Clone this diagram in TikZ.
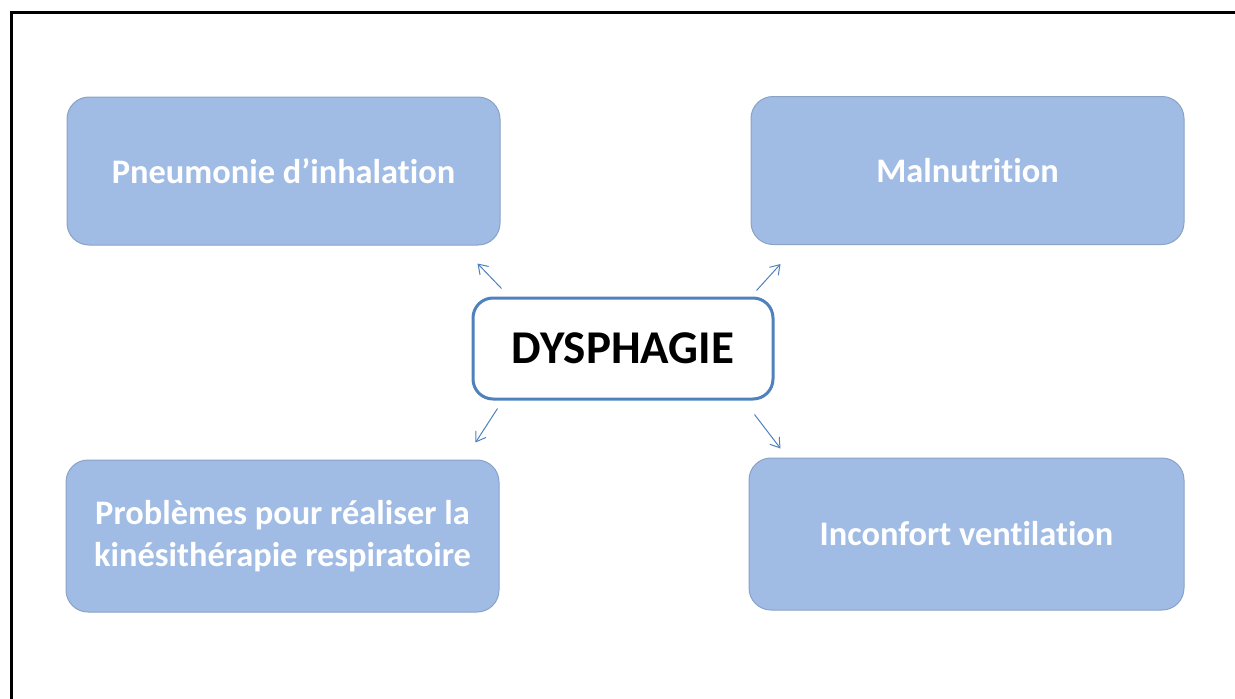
\documentclass[tikz,border=0pt]{standalone}
\usepackage{fontspec}
\setmainfont{Carlito}[Ligatures=NoCommon]
\usetikzlibrary{calc,arrows.meta}
\definecolor{boxblue}{HTML}{A0BCE5}
\definecolor{boxedge}{HTML}{8AA2C6}
\definecolor{dysblue}{HTML}{4F81BD}

\begin{document}
\begin{tikzpicture}[x=1pt, y=-1pt,
		effect/.style={rounded corners=22pt, fill=boxblue, draw=boxedge, line width=1pt,
			text=white, font=\fontsize{34.4}{42}\selectfont\bfseries, align=center,
			minimum width=433pt, minimum height=148pt, inner sep=0pt},
		cause/.style={rounded corners=20pt, fill=white, draw=dysblue, line width=3pt,
			font=\fontsize{47}{52}\selectfont\bfseries,
			minimum width=300pt, minimum height=101pt, inner sep=0pt},
		arr/.style={draw=dysblue, line width=1pt, -{Straight Barb[length=9pt, width=12pt]}}]
		%%%%% START %%%%%
		
		\useasboundingbox (0, 0) rectangle (1235, 699);
		\draw[line width=3pt] (11, 699) -- (11, 12) -- (1235, 12);
		
		\node[effect] (pneu) at (283.5, 171) {Pneumonie d’inhalation};
		\node[effect] (malnut) at (967.5, 170.5) {Malnutrition};
		\node[effect, minimum height=152pt] (kine) at (282.5, 536) {Problèmes pour réaliser la\\kinésithérapie respiratoire};
		\node[effect, minimum width=435pt, minimum height=152pt] (inconf) at (966.5, 534) {Inconfort ventilation};
		
		\node[cause] (dys) at (623, 348.5) {DYSPHAGIE};
		
		\draw[arr] ([shift={(30, -8)}]dys.north west) -- ([shift={(-23, 18)}]pneu.south east);
		\draw[arr] ([shift={(-18, -6)}]dys.north east) -- ([shift={(30, 19)}]malnut.south west);
		\draw[arr] ([shift={(26, 8)}]dys.south west) -- ([shift={(-24, -17)}]kine.north east);
		\draw[arr] ([shift={(-20, 14)}]dys.south east) -- ([shift={(32, -9)}]inconf.north west);
		
		%%%%% END %%%%%
	\end{tikzpicture}
\end{document}
